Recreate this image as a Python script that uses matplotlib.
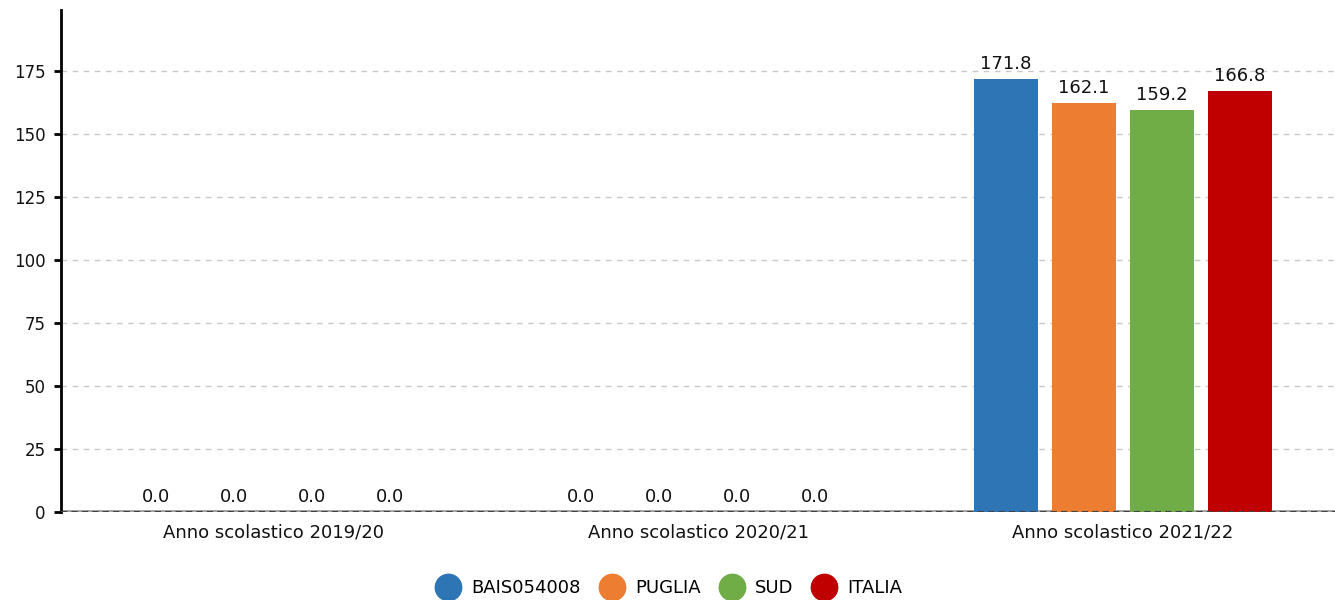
import matplotlib.pyplot as plt
from matplotlib.lines import Line2D

# Dati
categories = ["Anno scolastico 2019/20", "Anno scolastico 2020/21", "Anno scolastico 2021/22"]
series_names = ["BAIS054008", "PUGLIA", "SUD", "ITALIA"]
colors = ["#2e75b6", "#ed7d31", "#70ad47", "#c00000"]
bais = [0.0, 0.0, 171.8]
puglia = [0.0, 0.0, 162.1]
sud = [0.0, 0.0, 159.2]
italia = [0.0, 0.0, 166.8]
y_ticks = [0, 25, 50, 75, 100, 125, 150, 175]

plt.rcParams['font.family'] = ['DejaVu Sans']

fig = plt.figure(figsize=(13.35, 6), dpi=100)
ax = fig.add_axes([61 / 1335, 88 / 600, (1335 - 61) / 1335, 502 / 600])

values = [bais, puglia, sud, italia]
width = 0.1507
step = 0.1837
offsets = [-1.5 * step, -0.5 * step, 0.5 * step, 1.5 * step]
x = list(range(len(categories)))

for vals, off, col in zip(values, offsets, colors):
    bars = ax.bar([i + off for i in x], vals, width=width, color=col, zorder=3)
    for b, v in zip(bars, vals):
        ax.text(b.get_x() + b.get_width() / 2, v + 2.4, f"{v:.1f}",
                ha='center', va='bottom', fontsize=13, color='#111111', zorder=4)

ax.set_xlim(-0.5, 2.5)
ax.set_ylim(0, 199)
ax.set_yticks(y_ticks)
ax.set_xticks(x)
ax.set_xticklabels(categories, fontsize=13, color='#111111')
ax.tick_params(axis='y', labelsize=12, length=5, width=2, direction='out', pad=6,
               labelcolor='#111111')
ax.tick_params(axis='x', length=0, pad=8)

ax.grid(axis='y', linestyle=(0, (4, 4)), color='#c8c8c8', linewidth=1, zorder=0)
for s in ['top', 'right', 'bottom']:
    ax.spines[s].set_visible(False)
ax.spines['left'].set_linewidth(2)
ax.spines['left'].set_color('black')

# linea dello zero
ax.axhline(0, color='#a0a0a0', linewidth=3.5, zorder=2)
ax.axhline(0, color='#444444', linewidth=1.5, linestyle=(0, (3, 2)), zorder=5)

handles = [Line2D([0], [0], marker='o', linestyle='', markersize=19,
                  markerfacecolor=c, markeredgecolor=c) for c in colors]
fig.legend(handles, series_names, loc='center', ncol=4, frameon=False,
           bbox_to_anchor=(670 / 1335, 1 - 588 / 600), fontsize=13,
           handletextpad=0.7, columnspacing=1.1, handlelength=1.2)

fig.savefig("out.png", dpi=100)
